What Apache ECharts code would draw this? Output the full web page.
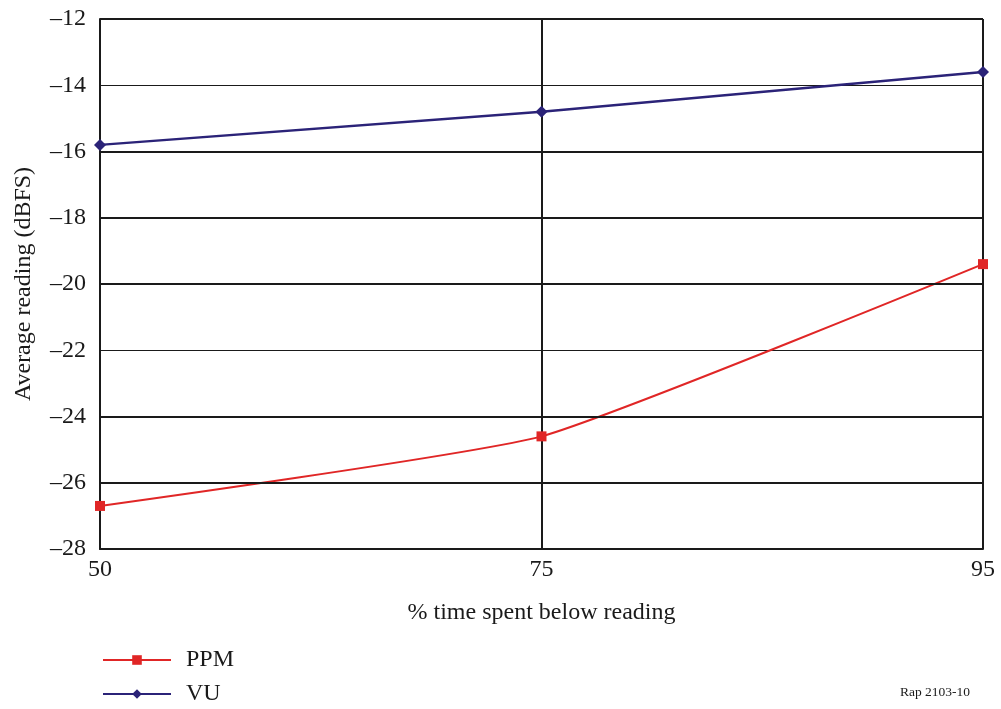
<!DOCTYPE html>
<html>
<head>
<meta charset="utf-8">
<script src="https://cdn.jsdelivr.net/npm/echarts@6/dist/echarts.min.js"></script>
<style>html,body{margin:0;padding:0;background:#fff;}#c{width:1001px;height:709px;}</style>
</head>
<body>
<div id="c"></div>
<script>
const categories = ['50', '75', '95'];
const ppm = [-26.7, -24.6, -19.4];
const vu = [-15.8, -14.8, -13.6];
const thickGridValues = [-12, -16, -18, -20, -24, -26];
const yMin = -28, yMax = -12, yStep = 2;

const font = 'Liberation Serif';
const ink = '#1a1a1a';
const chart = echarts.init(document.getElementById('c'));
chart.setOption({
  backgroundColor: '#fff',
  animation: false,
  textStyle: { fontFamily: font },
  grid: { left: 100, right: 18, top: 19, bottom: 160, containLabel: false, outerBoundsMode: 'none' },
  legend: {
    orient: 'vertical', left: 97, top: 643, height: 66,
    itemWidth: 68, itemHeight: 12, itemGap: 10,
    textStyle: { fontFamily: font, fontSize: 24, color: ink, padding: [0, 0, 0, 10] },
    data: ['PPM', 'VU']
  },
  xAxis: {
    type: 'category', data: categories, boundaryGap: false,
    name: '% time spent below reading', nameLocation: 'middle', nameGap: 52,
    nameTextStyle: { fontFamily: font, fontSize: 24, color: ink },
    axisLine: { show: true, lineStyle: { color: ink, width: 2 } },
    axisTick: { show: false },
    axisLabel: { fontFamily: font, fontSize: 24, color: ink, margin: 9 },
    splitLine: { show: true, lineStyle: { color: ink, width: 2 } }
  },
  yAxis: {
    type: 'value', min: yMin, max: yMax, interval: yStep,
    name: 'Average reading (dBFS)', nameLocation: 'middle', nameGap: 64,
    nameTextStyle: { fontFamily: font, fontSize: 24, color: ink },
    axisLine: { show: true, lineStyle: { color: ink, width: 2 } },
    axisTick: { show: false },
    axisLabel: { fontFamily: font, fontSize: 24, color: ink, margin: 14,
      formatter: v => String(v).replace('-', '–') },
    splitLine: { show: true, lineStyle: { color: ink, width: 1 } }
  },
  series: [
    {
      name: 'PPM', type: 'line', data: ppm, smooth: 0.15,
      symbol: 'rect', symbolSize: 10, showAllSymbol: true,
      itemStyle: { color: '#e02626' },
      lineStyle: { color: '#e02626', width: 2 },
      markLine: {
        silent: true, symbol: 'none', label: { show: false },
        lineStyle: { color: ink, width: 2, type: 'solid' },
        data: thickGridValues.map(v => ({ yAxis: v }))
      },
      z: 3
    },
    {
      name: 'VU', type: 'line', data: vu,
      symbol: 'diamond', symbolSize: 12,
      itemStyle: { color: '#2b2378' },
      lineStyle: { color: '#2b2378', width: 2.5 },
      z: 4
    }
  ],
  graphic: [
    { type: 'text', right: 31, top: 685,
      style: { text: 'Rap 2103-10', fontFamily: font, fontSize: 13.5, fill: ink } }
  ]
});
</script>
</body>
</html>
